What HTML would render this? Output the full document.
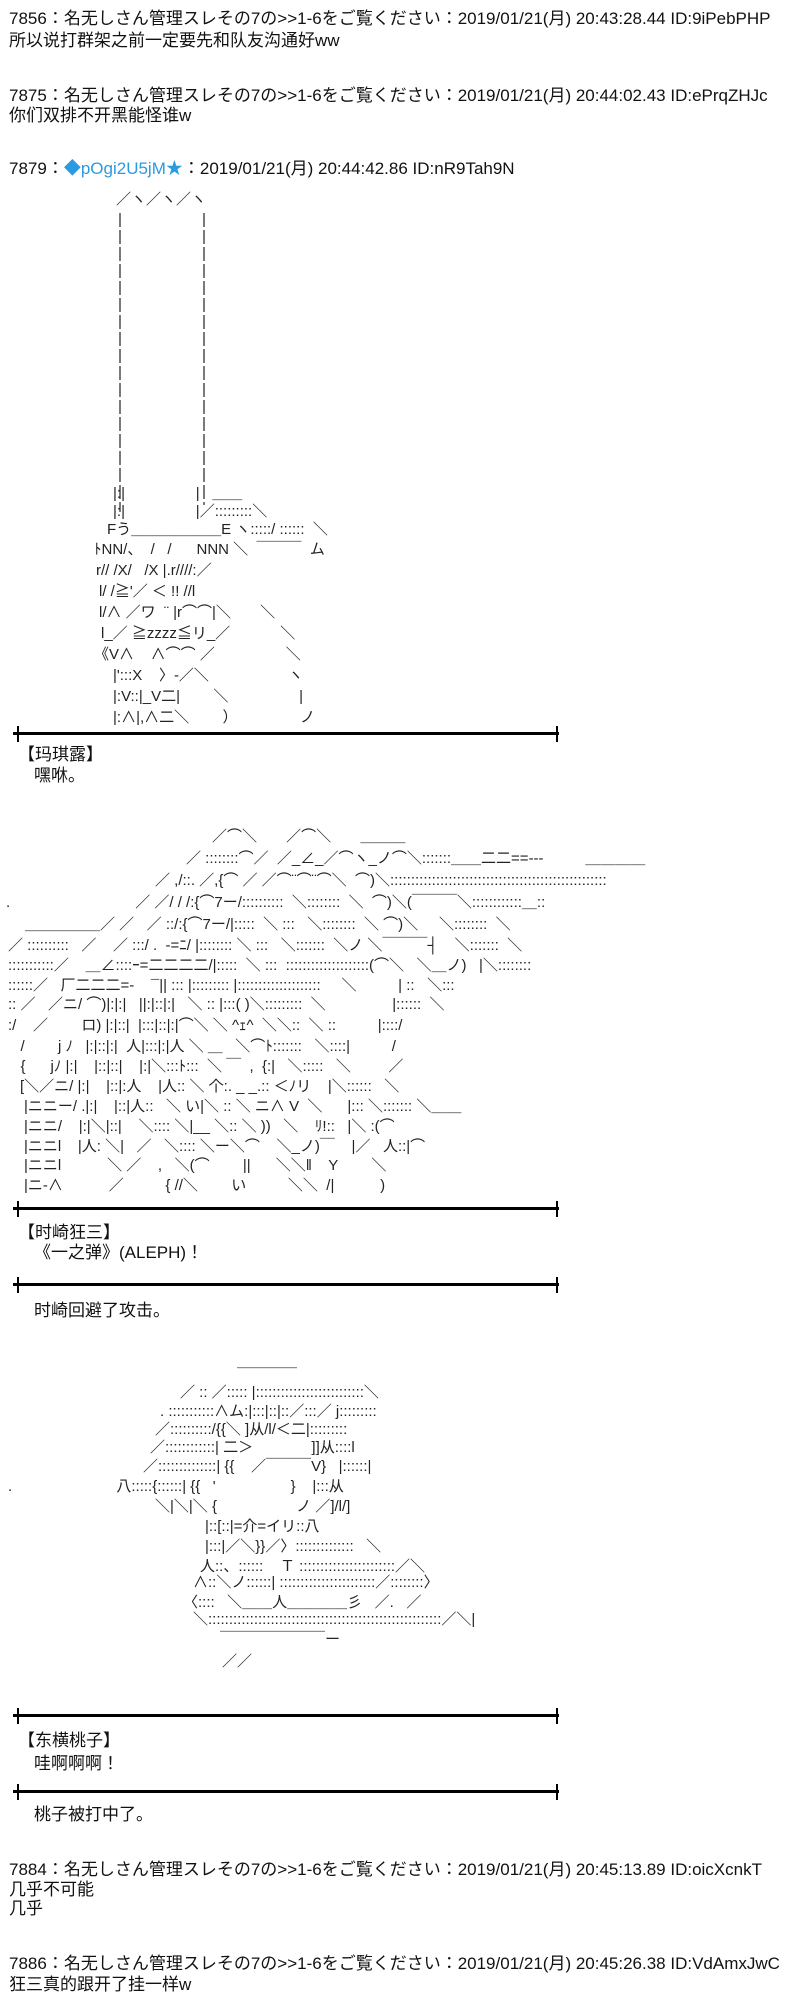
<!DOCTYPE html>
<html><head><meta charset="utf-8">
<style>
html,body{margin:0;padding:0;background:#fff;}
body{width:800px;height:2000px;position:relative;overflow:hidden;font-family:"Liberation Sans","Noto Sans CJK JP",sans-serif;color:#111;}
.t{position:absolute;white-space:pre;font-size:17px;line-height:20px;}
.a{position:absolute;white-space:pre;font-size:15px;line-height:20px;color:#222;}
.hl{position:absolute;left:13px;width:546px;height:3px;background:#000;}
.tk{position:absolute;width:2px;height:16px;background:#000;}
.blue{color:#2a9be0;}
</style></head><body>

<div class="t" style="left:9px;top:9px">7856：名无しさん管理スレその7の&gt;&gt;1-6をご覧ください：2019/01/21(月) 20:43:28.44 ID:9iPebPHP</div>
<div class="t" style="left:9px;top:31px">所以说打群架之前一定要先和队友沟通好ww</div>
<div class="t" style="left:9px;top:86px">7875：名无しさん管理スレその7の&gt;&gt;1-6をご覧ください：2019/01/21(月) 20:44:02.43 ID:ePrqZHJc</div>
<div class="t" style="left:9px;top:106px">你们双排不开黑能怪谁w</div>
<div class="t" style="left:9px;top:159px">7879：<span class="blue">◆pOgi2U5jM★</span>：2019/01/21(月) 20:44:42.86 ID:nR9Tah9N</div>

<!-- AA1 -->
<svg style="position:absolute;left:0;top:0" width="800" height="760">
<g stroke="#333" stroke-width="1.3" stroke-dasharray="14,3">
<line x1="120" y1="213" x2="120" y2="512"/>
<line x1="204" y1="213" x2="204" y2="505"/>
</g>
</svg>
<div class="a" style="left:116px;top:190px">／ヽ／ヽ／ヽ</div>
<div class="a" style="left:113px;top:484px">|:|                 |   ＿＿</div>
<div class="a" style="left:113px;top:502px">|:|                 |／:::::::::＼</div>
<div class="a" style="left:107px;top:520px">Fう＿＿＿＿＿＿E ヽ:::::/ ::::::  ＼</div>
<div class="a" style="left:94px;top:540px">ﾄNN/、  /   /      NNN ＼  ￣￣￣  ム</div>
<div class="a" style="left:96px;top:561px">r// /X/   /X |.r////:／</div>
<div class="a" style="left:99px;top:582px">l/ /≧'／ ＜ !! //l</div>
<div class="a" style="left:99px;top:603px">l/∧ ／ワ  ¨ |r⌒⌒|＼       ＼</div>
<div class="a" style="left:101px;top:624px">l_／ ≧zzzz≦リ_／            ＼</div>
<div class="a" style="left:94px;top:645px">《V∧    ∧⌒⌒ ／                 ＼</div>
<div class="a" style="left:113px;top:666px">|':::X    〉-／＼                   ヽ</div>
<div class="a" style="left:113px;top:687px">|:V::|_V二|        ＼                 |</div>
<div class="a" style="left:113px;top:708px">|:∧|,∧二＼        ）               ノ</div>

<div class="hl" style="top:732px"></div><div class="tk" style="left:17px;top:726px"></div><div class="tk" style="left:556px;top:726px"></div>
<div class="t" style="left:18px;top:745px">【玛琪露】</div>
<div class="t" style="left:34px;top:766px">嘿咻。</div>

<!-- AA2 -->
<div class="a" style="left:212px;top:827px">／⌒＼       ／⌒＼       ＿＿＿</div>
<div class="a" style="left:186px;top:849px">／ ::::::::⌒／  ／_∠_／⌒ヽ_ノ⌒＼:::::::＿＿二二==---          ＿＿＿＿</div>
<div class="a" style="left:155px;top:871px">／ ,/::. ／,{⌒ ／ ／⌒¨⌒¨⌒＼  ⌒)＼::::::::::::::::::::::::::::::::::::::::::::::::::::</div>
<div class="a" style="left:6px;top:893px">.                              ／ ／/ / /:{⌒7ー/::::::::::  ＼::::::::  ＼  ⌒)＼(￣￣￣＼::::::::::::＿::</div>
<div class="a" style="left:25px;top:915px">＿＿＿＿＿／ ／   ／ ::/:{⌒7ー/|:::::  ＼ :::   ＼::::::::  ＼ ⌒)＼     ＼::::::::  ＼</div>
<div class="a" style="left:8px;top:936px">／ ::::::::::   ／    ／ :::/ .  -=ﾆ/ |:::::::: ＼ :::   ＼:::::::  ＼ノ ＼￣￣￣┤    ＼:::::::  ＼</div>
<div class="a" style="left:8px;top:956px">:::::::::::／    ＿∠::::ｰ=二二二二/|:::::  ＼ :::  ::::::::::::::::::::(⌒＼   ＼＿ノ)   |＼::::::::</div>
<div class="a" style="left:8px;top:976px">::::::／   厂二二二=-    ¯|| ::: |::::::::: |::::::::::::::::::::     ＼          | ::   ＼:::</div>
<div class="a" style="left:8px;top:995px">:: ／   ／ニ/ ⌒)|:|:|   ||:|::|:|   ＼ :: |:::( )＼:::::::::  ＼                |::::::  ＼</div>
<div class="a" style="left:8px;top:1016px">:/    ／        ロ) |:|::|  |:::|::|:|⌒＼ ＼ ^ｪ^  ＼＼::  ＼ ::          |::::/</div>
<div class="a" style="left:8px;top:1037px">   /        j ﾉ   |:|::|:|  人|:::|:|人 ＼ ＿   ＼⌒ﾄ:::::::   ＼::::|          /</div>
<div class="a" style="left:8px;top:1057px">   {      jﾉ |:|    |::|::|    |:|＼:::ﾄ:::  ＼ ￣  ,  {:|   ＼:::::   ＼         ／</div>
<div class="a" style="left:20px;top:1077px">[＼／ニ/ |:|    |::|:人    |人:: ＼ 个:. _ _.:: ＜ﾉリ    |＼::::::   ＼</div>
<div class="a" style="left:24px;top:1097px">|ニニー/ .|:|    |::|人::   ＼ い|＼ :: ＼ ニ∧ V  ＼      |::: ＼::::::: ＼＿＿</div>
<div class="a" style="left:24px;top:1117px">|ニニ/    |:|＼|::|    ＼:::: ＼|__ ＼:: ＼ ))   ＼    ﾘ!::   |＼ :(⌒</div>
<div class="a" style="left:24px;top:1137px">|ニニl    |人: ＼|   ／   ＼:::: ＼ー＼⌒    ＼_ノ)￣    |／   人::|⌒</div>
<div class="a" style="left:24px;top:1156px">|ニニl           ＼ ／    ,   ＼(⌒        ||      ＼＼‖    Y        ＼</div>
<div class="a" style="left:24px;top:1176px">|ニ-∧           ／          { //＼        い          ＼＼  /|           )</div>

<div class="hl" style="top:1207px"></div><div class="tk" style="left:17px;top:1201px"></div><div class="tk" style="left:556px;top:1201px"></div>
<div class="t" style="left:18px;top:1223px">【时崎狂三】</div>
<div class="t" style="left:34px;top:1243px">《一之弹》(ALEPH)！</div>
<div class="hl" style="top:1283px"></div><div class="tk" style="left:17px;top:1277px"></div><div class="tk" style="left:556px;top:1277px"></div>
<div class="t" style="left:34px;top:1301px">时崎回避了攻击。</div>

<!-- AA3 -->
<div class="a" style="left:237px;top:1352px">＿＿＿＿</div>
<div class="a" style="left:180px;top:1383px">／ :: ／::::: |::::::::::::::::::::::::::＼</div>
<div class="a" style="left:160px;top:1402px">. :::::::::::∧ム:|:::|::|::／:::／ j:::::::::</div>
<div class="a" style="left:155px;top:1420px">／::::::::::/{{＼ ]从/l/＜二|:::::::::</div>
<div class="a" style="left:150px;top:1438px">／::::::::::::| 二＞              ]]从::::l</div>
<div class="a" style="left:143px;top:1457px">／::::::::::::::| {{    ／￣￣￣V}   |::::::|</div>
<div class="a" style="left:8px;top:1477px">.                         八:::::{::::::| {{   '                  }    |:::从</div>
<div class="a" style="left:155px;top:1497px">＼|＼|＼ {                   ノ ／]/l/]</div>
<div class="a" style="left:205px;top:1517px">|::[::|=介=イリ::八</div>
<div class="a" style="left:205px;top:1537px">|:::|／＼}}／〉::::::::::::::   ＼</div>
<div class="a" style="left:200px;top:1557px">人::、::::::    Ｔ :::::::::::::::::::::::／＼</div>
<div class="a" style="left:193px;top:1573px">∧::＼ノ::::::| :::::::::::::::::::::::／::::::::〉</div>
<div class="a" style="left:183px;top:1593px">〈::::   ＼＿＿人＿＿＿＿彡   ／.   ／</div>
<div class="a" style="left:193px;top:1610px">＼::::::::::::::::::::::::::::::::::::::::::::::::::::::::／＼|</div>
<div class="a" style="left:220px;top:1630px">￣￣￣￣￣￣￣ー</div>
<div class="a" style="left:222px;top:1652px">／／</div>

<div class="hl" style="top:1714px"></div><div class="tk" style="left:17px;top:1708px"></div><div class="tk" style="left:556px;top:1708px"></div>
<div class="t" style="left:18px;top:1731px">【东横桃子】</div>
<div class="t" style="left:34px;top:1754px">哇啊啊啊！</div>
<div class="hl" style="top:1790px"></div><div class="tk" style="left:17px;top:1784px"></div><div class="tk" style="left:556px;top:1784px"></div>
<div class="t" style="left:34px;top:1805px">桃子被打中了。</div>

<div class="t" style="left:9px;top:1860px">7884：名无しさん管理スレその7の&gt;&gt;1-6をご覧ください：2019/01/21(月) 20:45:13.89 ID:oicXcnkT</div>
<div class="t" style="left:9px;top:1880px">几乎不可能</div>
<div class="t" style="left:9px;top:1899px">几乎</div>
<div class="t" style="left:9px;top:1954px">7886：名无しさん管理スレその7の&gt;&gt;1-6をご覧ください：2019/01/21(月) 20:45:26.38 ID:VdAmxJwC</div>
<div class="t" style="left:9px;top:1975px">狂三真的跟开了挂一样w</div>
</body></html>
